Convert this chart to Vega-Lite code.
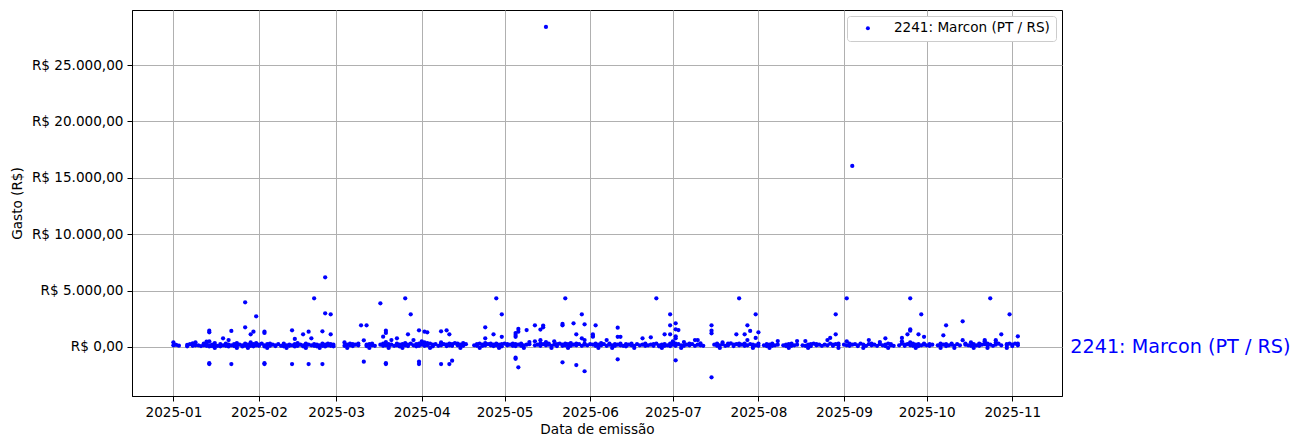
{
"$schema": "https://vega.github.io/schema/vega-lite/v6.json",
"width": 930, "height": 386,
"autosize": "none",
"padding": {"left": 132, "top": 10, "right": 242, "bottom": 52},
"background": "white",
"config": {
  "font": "DejaVu Sans",
  "view": {"stroke": "#000000", "strokeWidth": 1},
  "axis": {"labelFont": "DejaVu Sans", "titleFont": "DejaVu Sans", "labelFontSize": 13.6, "titleFontSize": 13.6, "titleFontWeight": "normal", "labelColor": "#000000", "titleColor": "#000000", "tickColor": "#000000", "domainColor": "#000000", "tickSize": 5, "labelPadding": 4, "gridColor": "#b0b0b0", "gridWidth": 1, "domainWidth": 1, "tickWidth": 1},
  "legend": {"orient": "top-right", "offset": 6, "padding": 5.5, "strokeColor": "#cccccc", "fillColor": "#ffffff", "cornerRadius": 3, "labelFont": "DejaVu Sans", "labelFontSize": 13.6, "labelColor": "#000000", "symbolSize": 16, "symbolType": "circle", "symbolOffset": 8.6, "labelOffset": 19.2}
},
"datasets": {
"pts": [
{"d":"2025-01-01","v":420},{"d":"2025-01-01","v":150},{"d":"2025-01-02","v":180},{"d":"2025-01-03","v":120},
{"d":"2025-01-06","v":180},{"d":"2025-01-06","v":60},{"d":"2025-01-07","v":250},{"d":"2025-01-08","v":330},{"d":"2025-01-08","v":100},
{"d":"2025-01-09","v":420},{"d":"2025-01-09","v":150},{"d":"2025-01-10","v":150},{"d":"2025-01-11","v":80},{"d":"2025-01-12","v":150},{"d":"2025-01-12","v":300},
{"d":"2025-01-13","v":300},{"d":"2025-01-13","v":100},{"d":"2025-01-13","v":470},
{"d":"2025-01-14","v":1450},{"d":"2025-01-14","v":1300},{"d":"2025-01-14","v":-1510},{"d":"2025-01-14","v":-1440},{"d":"2025-01-14","v":500},{"d":"2025-01-14","v":150},{"d":"2025-01-14","v":50},
{"d":"2025-01-15","v":200},{"d":"2025-01-15","v":80},{"d":"2025-01-16","v":150},{"d":"2025-01-16","v":350},{"d":"2025-01-16","v":-80},{"d":"2025-01-17","v":100},{"d":"2025-01-18","v":250},{"d":"2025-01-18","v":60},
{"d":"2025-01-19","v":770},{"d":"2025-01-19","v":150},{"d":"2025-01-20","v":100},{"d":"2025-01-20","v":300},{"d":"2025-01-21","v":620},{"d":"2025-01-21","v":200},{"d":"2025-01-21","v":50},
{"d":"2025-01-22","v":1420},{"d":"2025-01-22","v":-1510},{"d":"2025-01-22","v":150},{"d":"2025-01-23","v":250},{"d":"2025-01-23","v":80},{"d":"2025-01-24","v":100},{"d":"2025-01-24","v":350},{"d":"2025-01-24","v":-80},
{"d":"2025-01-25","v":200},{"d":"2025-01-26","v":150},{"d":"2025-01-26","v":50},
{"d":"2025-01-27","v":3960},{"d":"2025-01-27","v":1750},{"d":"2025-01-27","v":300},{"d":"2025-01-27","v":120},
{"d":"2025-01-28","v":200},{"d":"2025-01-28","v":80},{"d":"2025-01-28","v":-80},{"d":"2025-01-29","v":1120},{"d":"2025-01-29","v":100},{"d":"2025-01-29","v":400},
{"d":"2025-01-30","v":1360},{"d":"2025-01-30","v":250},{"d":"2025-01-30","v":60},{"d":"2025-01-31","v":2720},{"d":"2025-01-31","v":150},{"d":"2025-01-31","v":350},
{"d":"2025-02-01","v":100},{"d":"2025-02-01","v":200},{"d":"2025-02-02","v":300},
{"d":"2025-02-03","v":1360},{"d":"2025-02-03","v":1250},{"d":"2025-02-03","v":-1510},{"d":"2025-02-03","v":-1440},{"d":"2025-02-03","v":150},{"d":"2025-02-03","v":50},
{"d":"2025-02-04","v":250},{"d":"2025-02-04","v":-80},{"d":"2025-02-05","v":100},{"d":"2025-02-05","v":300},{"d":"2025-02-06","v":200},{"d":"2025-02-07","v":80},{"d":"2025-02-07","v":150},{"d":"2025-02-08","v":250},{"d":"2025-02-09","v":100},
{"d":"2025-02-10","v":300},{"d":"2025-02-10","v":60},{"d":"2025-02-11","v":150},{"d":"2025-02-11","v":-80},{"d":"2025-02-12","v":200},{"d":"2025-02-12","v":100},
{"d":"2025-02-13","v":1475},{"d":"2025-02-13","v":-1510},{"d":"2025-02-13","v":150},{"d":"2025-02-14","v":710},{"d":"2025-02-14","v":250},{"d":"2025-02-14","v":50},
{"d":"2025-02-15","v":100},{"d":"2025-02-15","v":350},{"d":"2025-02-16","v":200},{"d":"2025-02-17","v":1120},{"d":"2025-02-17","v":150},{"d":"2025-02-17","v":60},
{"d":"2025-02-18","v":300},{"d":"2025-02-18","v":100},{"d":"2025-02-18","v":-80},{"d":"2025-02-19","v":1360},{"d":"2025-02-19","v":-1510},{"d":"2025-02-19","v":200},
{"d":"2025-02-20","v":770},{"d":"2025-02-20","v":150},{"d":"2025-02-21","v":4320},{"d":"2025-02-21","v":100},{"d":"2025-02-21","v":250},
{"d":"2025-02-22","v":200},{"d":"2025-02-22","v":60},{"d":"2025-02-23","v":150},{"d":"2025-02-23","v":-80},
{"d":"2025-02-24","v":1390},{"d":"2025-02-24","v":-1510},{"d":"2025-02-24","v":300},{"d":"2025-02-24","v":100},
{"d":"2025-02-25","v":6180},{"d":"2025-02-25","v":2990},{"d":"2025-02-25","v":200},{"d":"2025-02-25","v":50},
{"d":"2025-02-26","v":150},{"d":"2025-02-26","v":300},{"d":"2025-02-27","v":2900},{"d":"2025-02-27","v":1120},{"d":"2025-02-27","v":100},{"d":"2025-02-27","v":250},
{"d":"2025-02-28","v":200},{"d":"2025-02-28","v":60},
{"d":"2025-03-04","v":400},{"d":"2025-03-04","v":100},{"d":"2025-03-05","v":200},{"d":"2025-03-05","v":-80},{"d":"2025-03-06","v":150},{"d":"2025-03-06","v":300},{"d":"2025-03-07","v":250},{"d":"2025-03-07","v":80},
{"d":"2025-03-08","v":200},{"d":"2025-03-09","v":150},{"d":"2025-03-09","v":300},{"d":"2025-03-10","v":1920},{"d":"2025-03-11","v":590},{"d":"2025-03-11","v":-1300},
{"d":"2025-03-12","v":1920},{"d":"2025-03-12","v":200},{"d":"2025-03-12","v":80},{"d":"2025-03-13","v":250},{"d":"2025-03-13","v":-80},{"d":"2025-03-14","v":150},{"d":"2025-03-14","v":300},{"d":"2025-03-15","v":100},
{"d":"2025-03-17","v":3870},{"d":"2025-03-17","v":200},{"d":"2025-03-18","v":915},{"d":"2025-03-18","v":300},{"d":"2025-03-18","v":100},
{"d":"2025-03-19","v":1445},{"d":"2025-03-19","v":1250},{"d":"2025-03-19","v":-1510},{"d":"2025-03-19","v":-1440},{"d":"2025-03-19","v":440},{"d":"2025-03-19","v":150},
{"d":"2025-03-20","v":250},{"d":"2025-03-20","v":60},{"d":"2025-03-20","v":-80},{"d":"2025-03-21","v":620},{"d":"2025-03-21","v":200},{"d":"2025-03-22","v":100},
{"d":"2025-03-23","v":770},{"d":"2025-03-23","v":300},{"d":"2025-03-23","v":150},{"d":"2025-03-24","v":200},{"d":"2025-03-24","v":50},{"d":"2025-03-25","v":250},{"d":"2025-03-25","v":-80},
{"d":"2025-03-26","v":4320},{"d":"2025-03-26","v":150},{"d":"2025-03-26","v":350},{"d":"2025-03-27","v":1120},{"d":"2025-03-27","v":200},{"d":"2025-03-27","v":80},
{"d":"2025-03-28","v":2900},{"d":"2025-03-28","v":300},{"d":"2025-03-29","v":620},{"d":"2025-03-29","v":150},{"d":"2025-03-30","v":250},{"d":"2025-03-30","v":60},
{"d":"2025-03-31","v":1475},{"d":"2025-03-31","v":-1300},{"d":"2025-03-31","v":-1510},{"d":"2025-03-31","v":300},{"d":"2025-03-31","v":100},
{"d":"2025-04-01","v":500},{"d":"2025-04-01","v":200},{"d":"2025-04-02","v":1360},{"d":"2025-04-02","v":400},{"d":"2025-04-02","v":100},
{"d":"2025-04-03","v":1300},{"d":"2025-04-03","v":350},{"d":"2025-04-03","v":150},{"d":"2025-04-04","v":300},{"d":"2025-04-04","v":-80},{"d":"2025-04-05","v":200},{"d":"2025-04-05","v":60},{"d":"2025-04-06","v":250},{"d":"2025-04-07","v":100},
{"d":"2025-04-08","v":1390},{"d":"2025-04-08","v":-1510},{"d":"2025-04-08","v":400},{"d":"2025-04-08","v":150},{"d":"2025-04-08","v":300},{"d":"2025-04-09","v":250},
{"d":"2025-04-10","v":1475},{"d":"2025-04-10","v":200},{"d":"2025-04-10","v":80},{"d":"2025-04-11","v":1120},{"d":"2025-04-11","v":-1510},{"d":"2025-04-11","v":300},{"d":"2025-04-11","v":150},
{"d":"2025-04-12","v":-1210},{"d":"2025-04-12","v":250},{"d":"2025-04-12","v":100},{"d":"2025-04-13","v":350},{"d":"2025-04-14","v":300},{"d":"2025-04-14","v":150},{"d":"2025-04-15","v":200},{"d":"2025-04-15","v":-80},
{"d":"2025-04-16","v":350},{"d":"2025-04-16","v":100},{"d":"2025-04-17","v":250},{"d":"2025-04-20","v":150},{"d":"2025-04-21","v":100},{"d":"2025-04-21","v":250},{"d":"2025-04-22","v":300},{"d":"2025-04-22","v":-80},
{"d":"2025-04-23","v":200},{"d":"2025-04-23","v":100},{"d":"2025-04-24","v":1750},{"d":"2025-04-24","v":770},{"d":"2025-04-24","v":350},{"d":"2025-04-24","v":150},
{"d":"2025-04-25","v":250},{"d":"2025-04-26","v":150},{"d":"2025-04-26","v":300},{"d":"2025-04-27","v":1120},{"d":"2025-04-27","v":200},{"d":"2025-04-27","v":80},
{"d":"2025-04-28","v":4320},{"d":"2025-04-28","v":300},{"d":"2025-04-28","v":150},{"d":"2025-04-29","v":200},{"d":"2025-04-29","v":-80},
{"d":"2025-04-30","v":2900},{"d":"2025-04-30","v":900},{"d":"2025-04-30","v":250},{"d":"2025-04-30","v":60},
{"d":"2025-05-01","v":300},{"d":"2025-05-02","v":150},{"d":"2025-05-02","v":250},{"d":"2025-05-03","v":200},{"d":"2025-05-04","v":100},{"d":"2025-05-04","v":300},
{"d":"2025-05-05","v":1240},{"d":"2025-05-05","v":900},{"d":"2025-05-05","v":1060},{"d":"2025-05-05","v":-950},{"d":"2025-05-05","v":-1050},{"d":"2025-05-05","v":250},{"d":"2025-05-05","v":80},
{"d":"2025-05-06","v":1600},{"d":"2025-05-06","v":1360},{"d":"2025-05-06","v":-1800},{"d":"2025-05-06","v":200},{"d":"2025-05-07","v":300},{"d":"2025-05-07","v":100},{"d":"2025-05-08","v":150},{"d":"2025-05-08","v":-80},
{"d":"2025-05-09","v":1500},{"d":"2025-05-09","v":200},{"d":"2025-05-10","v":440},{"d":"2025-05-10","v":250},
{"d":"2025-05-12","v":1920},{"d":"2025-05-12","v":500},{"d":"2025-05-12","v":150},{"d":"2025-05-13","v":200},
{"d":"2025-05-14","v":1550},{"d":"2025-05-14","v":600},{"d":"2025-05-14","v":300},{"d":"2025-05-14","v":100},
{"d":"2025-05-15","v":1900},{"d":"2025-05-15","v":1750},{"d":"2025-05-15","v":250},
{"d":"2025-05-16","v":28370},{"d":"2025-05-16","v":440},{"d":"2025-05-16","v":150},{"d":"2025-05-17","v":200},{"d":"2025-05-17","v":300},{"d":"2025-05-18","v":100},{"d":"2025-05-18","v":-80},
{"d":"2025-05-19","v":500},{"d":"2025-05-19","v":200},{"d":"2025-05-20","v":250},{"d":"2025-05-20","v":80},{"d":"2025-05-21","v":300},
{"d":"2025-05-22","v":2040},{"d":"2025-05-22","v":1920},{"d":"2025-05-22","v":-1360},{"d":"2025-05-22","v":200},{"d":"2025-05-22","v":100},
{"d":"2025-05-23","v":4320},{"d":"2025-05-23","v":150},{"d":"2025-05-23","v":300},{"d":"2025-05-24","v":250},{"d":"2025-05-24","v":-80},{"d":"2025-05-25","v":100},{"d":"2025-05-25","v":350},
{"d":"2025-05-26","v":2100},{"d":"2025-05-26","v":200},{"d":"2025-05-27","v":1120},{"d":"2025-05-27","v":-1600},{"d":"2025-05-27","v":300},{"d":"2025-05-27","v":150},
{"d":"2025-05-28","v":250},{"d":"2025-05-29","v":2900},{"d":"2025-05-29","v":770},{"d":"2025-05-29","v":100},
{"d":"2025-05-30","v":2010},{"d":"2025-05-30","v":-2150},{"d":"2025-05-30","v":620},{"d":"2025-05-30","v":200},{"d":"2025-05-30","v":300},{"d":"2025-05-31","v":150},
{"d":"2025-06-01","v":250},{"d":"2025-06-02","v":915},{"d":"2025-06-02","v":1120},{"d":"2025-06-02","v":970},{"d":"2025-06-02","v":200},
{"d":"2025-06-03","v":1920},{"d":"2025-06-03","v":300},{"d":"2025-06-03","v":100},{"d":"2025-06-04","v":200},{"d":"2025-06-04","v":-80},{"d":"2025-06-05","v":150},{"d":"2025-06-05","v":350},{"d":"2025-06-06","v":250},
{"d":"2025-06-07","v":620},{"d":"2025-06-07","v":100},{"d":"2025-06-08","v":200},{"d":"2025-06-08","v":300},{"d":"2025-06-09","v":150},{"d":"2025-06-09","v":-80},{"d":"2025-06-10","v":250},{"d":"2025-06-10","v":100},
{"d":"2025-06-11","v":1710},{"d":"2025-06-11","v":900},{"d":"2025-06-11","v":-1090},{"d":"2025-06-11","v":200},
{"d":"2025-06-12","v":900},{"d":"2025-06-12","v":300},{"d":"2025-06-12","v":150},{"d":"2025-06-13","v":100},{"d":"2025-06-14","v":250},{"d":"2025-06-14","v":60},{"d":"2025-06-15","v":200},
{"d":"2025-06-16","v":150},{"d":"2025-06-16","v":300},{"d":"2025-06-17","v":100},{"d":"2025-06-17","v":-80},{"d":"2025-06-18","v":250},{"d":"2025-06-19","v":150},{"d":"2025-06-20","v":770},{"d":"2025-06-20","v":200},
{"d":"2025-06-21","v":300},{"d":"2025-06-21","v":100},{"d":"2025-06-22","v":150},{"d":"2025-06-23","v":860},{"d":"2025-06-23","v":200},{"d":"2025-06-24","v":100},{"d":"2025-06-24","v":250},
{"d":"2025-06-25","v":4320},{"d":"2025-06-25","v":300},{"d":"2025-06-26","v":150},{"d":"2025-06-26","v":60},{"d":"2025-06-27","v":200},{"d":"2025-06-27","v":-80},
{"d":"2025-06-28","v":1120},{"d":"2025-06-28","v":250},{"d":"2025-06-28","v":100},{"d":"2025-06-29","v":150},
{"d":"2025-06-30","v":2900},{"d":"2025-06-30","v":1920},{"d":"2025-06-30","v":1120},{"d":"2025-06-30","v":300},{"d":"2025-06-30","v":80},
{"d":"2025-07-01","v":200},{"d":"2025-07-01","v":500},
{"d":"2025-07-02","v":2100},{"d":"2025-07-02","v":1570},{"d":"2025-07-02","v":950},{"d":"2025-07-02","v":770},{"d":"2025-07-02","v":-1180},{"d":"2025-07-02","v":300},{"d":"2025-07-02","v":100},
{"d":"2025-07-03","v":1500},{"d":"2025-07-03","v":250},{"d":"2025-07-04","v":150},{"d":"2025-07-04","v":-80},{"d":"2025-07-05","v":440},{"d":"2025-07-05","v":100},{"d":"2025-07-06","v":200},
{"d":"2025-07-07","v":150},{"d":"2025-07-07","v":300},{"d":"2025-07-08","v":250},{"d":"2025-07-09","v":620},{"d":"2025-07-09","v":100},{"d":"2025-07-10","v":620},{"d":"2025-07-10","v":200},
{"d":"2025-07-11","v":330},{"d":"2025-07-11","v":150},{"d":"2025-07-12","v":100},
{"d":"2025-07-15","v":1920},{"d":"2025-07-15","v":1445},{"d":"2025-07-15","v":1210},{"d":"2025-07-15","v":-2690},
{"d":"2025-07-16","v":200},{"d":"2025-07-17","v":300},{"d":"2025-07-17","v":100},{"d":"2025-07-18","v":150},{"d":"2025-07-18","v":-80},{"d":"2025-07-19","v":400},{"d":"2025-07-19","v":250},{"d":"2025-07-20","v":100},
{"d":"2025-07-21","v":300},{"d":"2025-07-21","v":150},{"d":"2025-07-22","v":330},{"d":"2025-07-23","v":200},{"d":"2025-07-23","v":80},{"d":"2025-07-24","v":1120},{"d":"2025-07-24","v":250},
{"d":"2025-07-25","v":4320},{"d":"2025-07-25","v":150},{"d":"2025-07-25","v":300},{"d":"2025-07-26","v":200},
{"d":"2025-07-27","v":1120},{"d":"2025-07-27","v":300},{"d":"2025-07-27","v":100},{"d":"2025-07-28","v":1920},{"d":"2025-07-28","v":620},{"d":"2025-07-28","v":150},
{"d":"2025-07-29","v":1420},{"d":"2025-07-29","v":250},{"d":"2025-07-30","v":200},{"d":"2025-07-30","v":80},{"d":"2025-07-30","v":-80},
{"d":"2025-07-31","v":2900},{"d":"2025-07-31","v":800},{"d":"2025-07-31","v":150},
{"d":"2025-08-01","v":1300},{"d":"2025-08-01","v":300},{"d":"2025-08-01","v":100},
{"d":"2025-08-03","v":150},{"d":"2025-08-04","v":250},{"d":"2025-08-04","v":80},{"d":"2025-08-05","v":200},{"d":"2025-08-05","v":-80},{"d":"2025-08-06","v":300},{"d":"2025-08-06","v":100},{"d":"2025-08-07","v":150},
{"d":"2025-08-08","v":530},{"d":"2025-08-08","v":200},{"d":"2025-08-10","v":150},{"d":"2025-08-11","v":200},{"d":"2025-08-11","v":80},{"d":"2025-08-12","v":250},{"d":"2025-08-12","v":-80},
{"d":"2025-08-13","v":100},{"d":"2025-08-13","v":300},{"d":"2025-08-14","v":150},{"d":"2025-08-15","v":530},{"d":"2025-08-15","v":200},
{"d":"2025-08-17","v":150},{"d":"2025-08-18","v":530},{"d":"2025-08-18","v":100},{"d":"2025-08-19","v":200},{"d":"2025-08-19","v":-80},{"d":"2025-08-20","v":250},{"d":"2025-08-20","v":80},{"d":"2025-08-21","v":300},
{"d":"2025-08-22","v":150},{"d":"2025-08-22","v":250},{"d":"2025-08-23","v":200},{"d":"2025-08-24","v":100},{"d":"2025-08-25","v":200},
{"d":"2025-08-26","v":620},{"d":"2025-08-26","v":150},{"d":"2025-08-27","v":800},{"d":"2025-08-27","v":300},{"d":"2025-08-28","v":200},{"d":"2025-08-28","v":100},
{"d":"2025-08-29","v":2900},{"d":"2025-08-29","v":1120},{"d":"2025-08-29","v":250},{"d":"2025-08-30","v":150},{"d":"2025-08-30","v":300},{"d":"2025-08-30","v":-80},
{"d":"2025-09-01","v":200},{"d":"2025-09-02","v":4320},{"d":"2025-09-02","v":500},{"d":"2025-09-02","v":150},{"d":"2025-09-03","v":300},{"d":"2025-09-03","v":100},
{"d":"2025-09-04","v":16050},{"d":"2025-09-04","v":200},{"d":"2025-09-05","v":250},{"d":"2025-09-06","v":150},{"d":"2025-09-06","v":80},{"d":"2025-09-07","v":300},{"d":"2025-09-08","v":200},{"d":"2025-09-08","v":-80},
{"d":"2025-09-09","v":100},{"d":"2025-09-10","v":620},{"d":"2025-09-10","v":250},{"d":"2025-09-11","v":150},{"d":"2025-09-11","v":300},{"d":"2025-09-12","v":200},{"d":"2025-09-13","v":100},
{"d":"2025-09-14","v":440},{"d":"2025-09-14","v":250},{"d":"2025-09-15","v":150},{"d":"2025-09-16","v":770},{"d":"2025-09-16","v":200},{"d":"2025-09-16","v":80},
{"d":"2025-09-17","v":300},{"d":"2025-09-17","v":-80},{"d":"2025-09-18","v":150},{"d":"2025-09-18","v":250},{"d":"2025-09-19","v":100},{"d":"2025-09-21","v":150},
{"d":"2025-09-22","v":800},{"d":"2025-09-22","v":500},{"d":"2025-09-22","v":300},{"d":"2025-09-23","v":200},{"d":"2025-09-23","v":100},{"d":"2025-09-24","v":1120},{"d":"2025-09-24","v":250},
{"d":"2025-09-25","v":4320},{"d":"2025-09-25","v":1570},{"d":"2025-09-25","v":1450},{"d":"2025-09-25","v":420},{"d":"2025-09-25","v":150},
{"d":"2025-09-26","v":300},{"d":"2025-09-26","v":100},{"d":"2025-09-27","v":200},{"d":"2025-09-27","v":-80},{"d":"2025-09-28","v":1120},{"d":"2025-09-28","v":250},{"d":"2025-09-28","v":80},
{"d":"2025-09-29","v":2900},{"d":"2025-09-29","v":150},{"d":"2025-09-30","v":900},{"d":"2025-09-30","v":200},{"d":"2025-09-30","v":300},
{"d":"2025-10-01","v":150},{"d":"2025-10-02","v":250},{"d":"2025-10-02","v":100},{"d":"2025-10-03","v":200},{"d":"2025-10-05","v":150},{"d":"2025-10-06","v":300},{"d":"2025-10-06","v":100},{"d":"2025-10-06","v":-80},
{"d":"2025-10-07","v":1040},{"d":"2025-10-07","v":200},{"d":"2025-10-08","v":1920},{"d":"2025-10-08","v":250},{"d":"2025-10-08","v":80},{"d":"2025-10-09","v":150},
{"d":"2025-10-10","v":300},{"d":"2025-10-10","v":200},{"d":"2025-10-11","v":100},{"d":"2025-10-11","v":-80},{"d":"2025-10-12","v":250},{"d":"2025-10-13","v":150},{"d":"2025-10-14","v":2280},{"d":"2025-10-14","v":600},
{"d":"2025-10-15","v":200},{"d":"2025-10-15","v":300},{"d":"2025-10-16","v":150},{"d":"2025-10-17","v":400},{"d":"2025-10-17","v":100},{"d":"2025-10-18","v":250},{"d":"2025-10-18","v":-80},{"d":"2025-10-19","v":150},
{"d":"2025-10-20","v":300},{"d":"2025-10-20","v":100},{"d":"2025-10-21","v":200},{"d":"2025-10-22","v":620},{"d":"2025-10-22","v":250},{"d":"2025-10-22","v":500},
{"d":"2025-10-23","v":150},{"d":"2025-10-23","v":300},{"d":"2025-10-23","v":-80},{"d":"2025-10-24","v":4320},{"d":"2025-10-24","v":200},{"d":"2025-10-25","v":100},
{"d":"2025-10-26","v":600},{"d":"2025-10-26","v":400},{"d":"2025-10-26","v":200},{"d":"2025-10-27","v":300},{"d":"2025-10-28","v":1120},{"d":"2025-10-28","v":150},
{"d":"2025-10-30","v":100},{"d":"2025-10-30","v":250},{"d":"2025-10-30","v":-80},{"d":"2025-10-31","v":2900},{"d":"2025-10-31","v":300},
{"d":"2025-11-01","v":200},{"d":"2025-11-01","v":80},{"d":"2025-11-02","v":300},{"d":"2025-11-03","v":950},{"d":"2025-11-03","v":150},{"d":"2025-11-03","v":300}
],
"lbl": [{"d":"2025-11-22","v":0,"t":"2241: Marcon (PT / RS)"}]
},
"layer": [
 {
  "data": {"name": "pts"},
  "mark": {"type": "point", "filled": true, "shape": "circle", "size": 18, "opacity": 1},
  "encoding": {
   "x": {"field": "d", "type": "temporal", "title": "Data de emissão",
     "scale": {"type": "utc", "domain": [{"year": 2024, "month": 12, "date": 17, "utc": true}, {"year": 2025, "month": 11, "date": 19, "utc": true}]},
     "axis": {"format": "%Y-%m", "labelAngle": 0, "titlePadding": 4, "grid": true,
       "values": [{"year":2025,"month":1,"date":1,"utc":true},{"year":2025,"month":2,"date":1,"utc":true},{"year":2025,"month":3,"date":1,"utc":true},{"year":2025,"month":4,"date":1,"utc":true},{"year":2025,"month":5,"date":1,"utc":true},{"year":2025,"month":6,"date":1,"utc":true},{"year":2025,"month":7,"date":1,"utc":true},{"year":2025,"month":8,"date":1,"utc":true},{"year":2025,"month":9,"date":1,"utc":true},{"year":2025,"month":10,"date":1,"utc":true},{"year":2025,"month":11,"date":1,"utc":true}]}},
   "y": {"field": "v", "type": "quantitative", "title": "Gasto (R$)",
     "scale": {"domain": [-4344, 29876], "nice": false, "zero": false},
     "axis": {"values": [0, 5000, 10000, 15000, 20000, 25000], "titlePadding": 7, "grid": true,
       "labelExpr": "'R$ ' + replace(replace(replace(format(datum.value, ',.2f'), ',', '#'), '.', ','), '#', '.')"}},
   "color": {"datum": "2241: Marcon (PT / RS)", "scale": {"range": ["#0000ff"]}, "legend": {"title": null}}
  }
 },
 {
  "data": {"name": "lbl"},
  "mark": {"type": "text", "align": "left", "baseline": "middle", "fontSize": 19.2, "font": "DejaVu Sans", "color": "#0000ff"},
  "encoding": {
   "x": {"field": "d", "type": "temporal"},
   "y": {"field": "v", "type": "quantitative"},
   "text": {"field": "t"}
  }
 }
]
}
